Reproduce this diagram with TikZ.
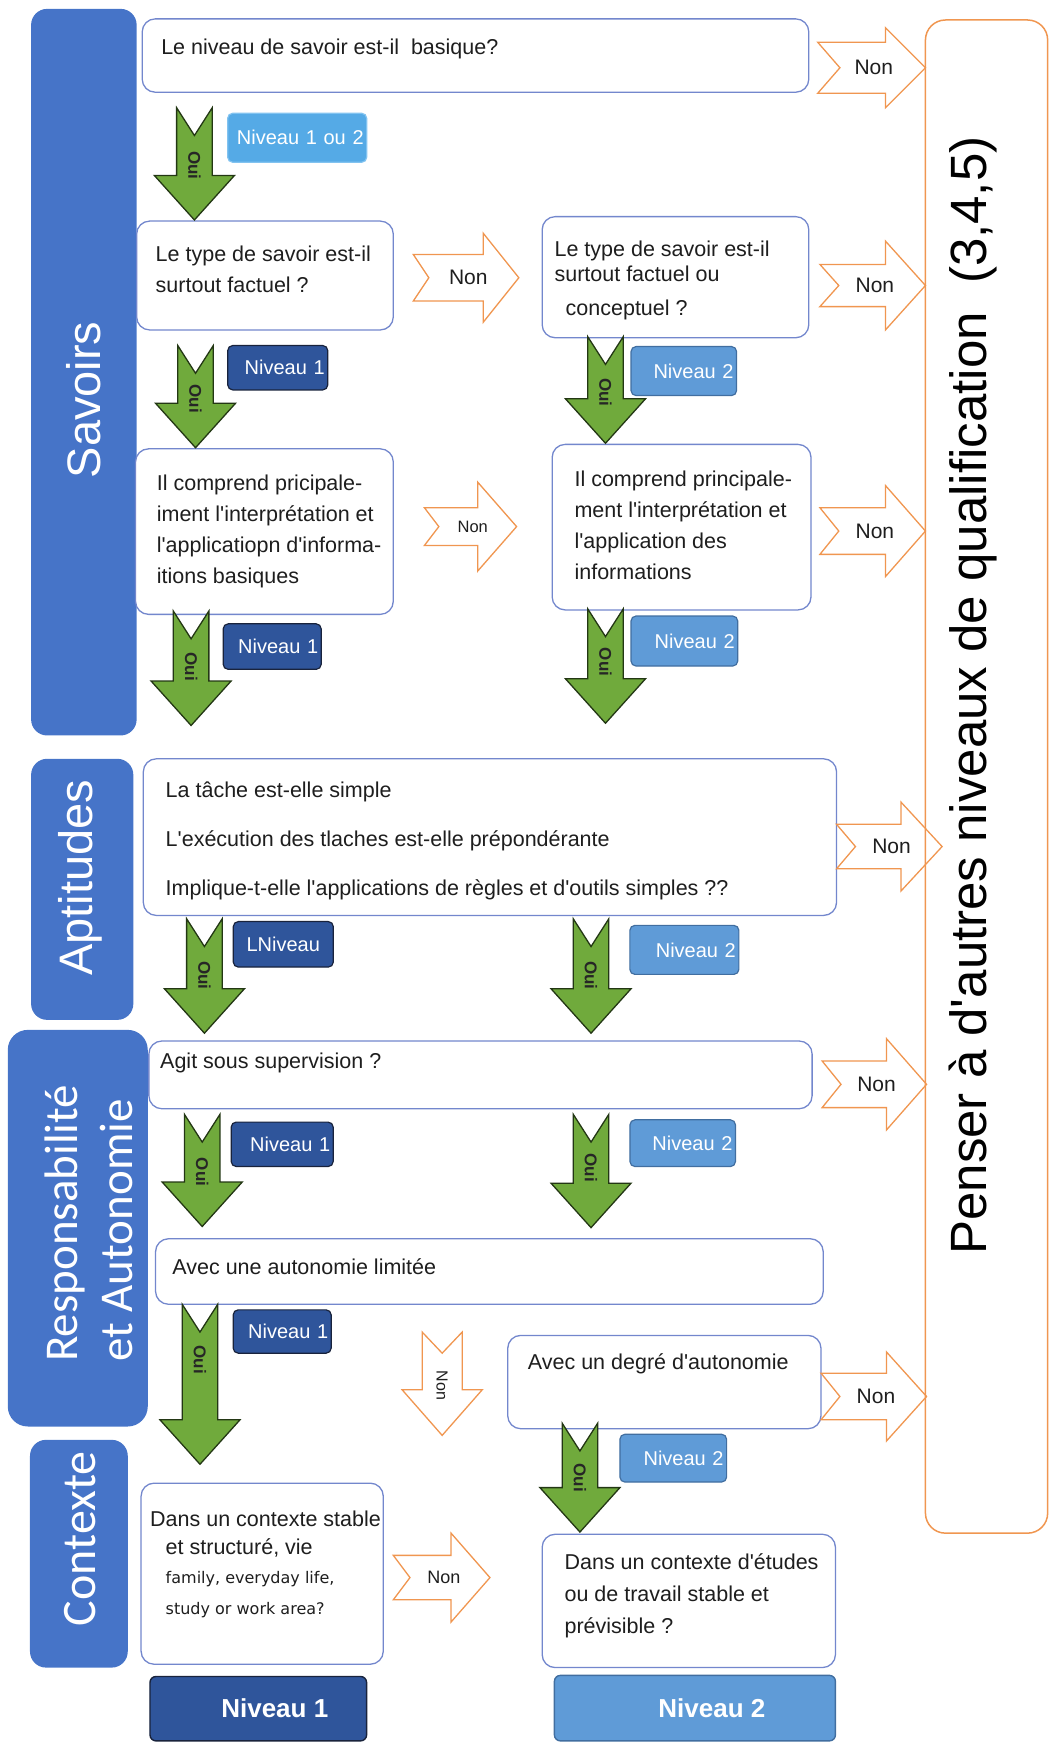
\documentclass[tikz,border=0pt]{standalone}
\usepackage{fontspec}
\newfontfamily\arialf{Liberation Sans}
\newfontfamily\calf{Carlito}
\newfontfamily\dejaf{DejaVu Sans}
\usetikzlibrary{fit}
\definecolor{catblue}{RGB}{70,116,200}
\definecolor{boxline}{RGB}{115,135,205}
\definecolor{txtcol}{RGB}{30,30,30}
\definecolor{nonorange}{RGB}{240,150,80}
\definecolor{ouigreen}{RGB}{112,170,60}
\definecolor{ouiline}{RGB}{35,55,20}
\definecolor{nivdark}{RGB}{47,85,155}
\definecolor{nivdarkline}{RGB}{25,35,60}
\definecolor{nivlight}{RGB}{95,155,215}
\definecolor{nivlightline}{RGB}{65,110,160}
\definecolor{nivsky}{RGB}{85,170,230}
\definecolor{nivskyline}{RGB}{130,195,240}
\tikzset{
  catbar/.style={fill=catblue, draw=none, rounded corners=16pt, inner sep=0pt},
  qbox/.style={draw=boxline, line width=1.3pt, fill=white, rounded corners=13pt, inner sep=0pt},
  qtxt/.style={font=\arialf\fontsize{21.5}{31}\selectfont, text=txtcol, align=left, inner sep=0pt, anchor=west},
  cattxt/.style={text=white, rotate=90, align=left, inner sep=0pt},
  nivbase/.style={rounded corners=5pt, line width=1.2pt, text=white, font=\arialf\fontsize{20}{24}\selectfont, align=right, inner xsep=3pt, inner ysep=0pt},
  nivd/.style={nivbase, fill=nivdark, draw=nivdarkline},
  nivl/.style={nivbase, fill=nivlight, draw=nivlightline},
  nivs/.style={nivbase, fill=nivsky, draw=nivskyline},
  bigniv/.style={rounded corners=6pt, line width=1.4pt, text=white, font=\arialf\bfseries\fontsize{26}{30}\selectfont, inner sep=0pt},
  ouishape/.style={fill=ouigreen, draw=ouiline, line width=1.3pt, line join=miter},
  ouitxt/.style={font=\arialf\bfseries\fontsize{17}{20}\selectfont, text=black!85, rotate=-90, inner sep=0pt},
  nonshape/.style={draw=nonorange, line width=1.3pt, fill=white, line join=miter},
  nontxt/.style={font=\arialf, text=txtcol, inner sep=0pt},
  pics/ouiarrow/.style n args={2}{code={
    \draw[ouishape] (-16,0) -- (0,25) -- (16,0) -- (16,#1-40) -- (36,#1-40) -- (0,#1) -- (-36,#1-40) -- (-16,#1-40) -- cycle;
    \node[ouitxt] (-lbl) at (0,#2) {Oui};
  }},
  pics/nonarrow/.style n args={6}{code={
    \draw[nonshape] (0,-#2) -- (#1-#4,-#2) -- (#1-#4,-#3) -- (#1,0) -- (#1-#4,#3) -- (#1-#4,#2) -- (0,#2) -- (#5,0) -- cycle;
    \node[nontxt] (-lbl) at (#1/2+2,0) {\fontsize{#6}{#6}\selectfont Non};
  }}
}
\begin{document}
\begin{tikzpicture}[x=1.1109pt,y=-1.1109pt]
\useasboundingbox (0,0) rectangle (947,1568);

% category bars
\node[catbar, fit={(28,8) (123,662)}] (c1) {};
\node[catbar, fit={(28,683) (120,918)}] (c2) {};
\node[catbar, rounded corners=20pt, fit={(7,927) (133,1284)}] (c3) {};
\node[catbar, fit={(27,1296) (115,1501)}] (c4) {};
\node[cattxt, font=\arialf\fontsize{47}{55}\selectfont] (c1t) at (75,360) {Savoirs};
\node[cattxt, font=\arialf\fontsize{47}{55}\selectfont] (c2t) at (72,790) {Aptitudes};
\node[cattxt, font=\calf\fontsize{47}{55}\selectfont] (c3t) at (80,1101) {Responsabilité\\et Autonomie};
\node[cattxt, font=\calf\fontsize{48}{55}\selectfont] (c4t) at (72,1385) {Contexte};

% question boxes
\node[qbox, fit={(128,17) (728,83)}] (q1) {};
\node[qbox, fit={(123,199) (354,297)}] (q2) {};
\node[qbox, fit={(488,195) (728,304)}] (q3) {};
\node[qbox, fit={(122,404) (354,553)}] (q4) {};
\node[qbox, fit={(497,400) (730,549)}] (q5) {};
\node[qbox, fit={(129,683) (753,824)}] (q6) {};
\node[qbox, fit={(134,937) (731,998)}] (q7) {};
\node[qbox, fit={(140,1115) (741,1174)}] (q8) {};
\node[qbox, fit={(457,1202) (739,1286)}] (q9) {};
\node[qbox, fit={(127,1335) (345,1498)}] (q10) {};
\node[qbox, fit={(488,1381) (752,1501)}] (q11) {};

% texts
\node[qtxt] (t1) at (145,44) {Le niveau de savoir est-il\ \ basique?};
\node[qtxt] (t2) at (140,242) {Le type de savoir est-il\\surtout factuel ?};
\node[qtxt, font=\arialf\fontsize{21.5}{24.5}\selectfont] (t3a) at (499,235) {Le type de savoir est-il\\surtout factuel ou};
\node[qtxt] (t3b) at (509,279) {conceptuel ?};
\node[qtxt, font=\arialf\fontsize{21.5}{30.8}\selectfont] (t4) at (141,478.5) {Il comprend pricipale-\\iment l'interprétation et\\l'applicatiopn d'informa-\\itions basiques};
\node[qtxt, font=\arialf\fontsize{21.5}{31}\selectfont] (t5) at (517,473) {Il comprend principale-\\ment l'interprétation et\\l'application des\\informations};
\node[qtxt] (t6a) at (149,713) {La tâche est-elle simple};
\node[qtxt] (t6b) at (149,757) {L'exécution des tlaches est-elle prépondérante};
\node[qtxt] (t6c) at (149,801) {Implique-t-elle l'applications de règles et d'outils simples ??};
\node[qtxt] (t7) at (144,957) {Agit sous supervision ?};
\node[qtxt] (t8) at (155,1140) {Avec une autonomie limitée};
\node[qtxt] (t9) at (475,1228) {Avec un degré d'autonomie};
\node[qtxt] (t10a) at (135,1367) {Dans un contexte stable};
\node[qtxt] (t10b) at (149,1393) {et structuré, vie};
\node[qtxt, font=\dejaf\fontsize{16}{31}\selectfont] (t10c) at (149,1435) {family, everyday life,\\study or work area?};
\node[qtxt, font=\arialf\fontsize{21.5}{32}\selectfont] (t11) at (508,1436) {Dans un contexte d'études\\ou de travail stable et\\prévisible ?};

% niveau labels
\node[nivs, minimum height=49pt, text width=133pt] (l0) at (267.5,124) {Niveau 1 ou 2};
\node[nivd, minimum height=44.4pt, text width=94pt] (l1) at (250,331) {Niveau 1};
\node[nivl, minimum height=49pt, text width=99.5pt] (l2) at (615.5,334) {Niveau 2};
\node[nivd, minimum height=45.5pt, text width=92pt] (l3) at (245,582) {Niveau 1};
\node[nivl, minimum height=50pt, text width=100.7pt] (l4) at (616,577) {Niveau 2};
\node[nivd, minimum height=45.5pt, text width=94pt, align=center] (l5) at (255,850) {LNiveau};
\node[nivl, minimum height=49pt, text width=103pt] (l6) at (616,855) {Niveau 2};
\node[nivd, minimum height=44.4pt, text width=96pt] (l7) at (254,1030) {Niveau 1};
\node[nivl, minimum height=46.7pt, text width=99.5pt] (l8) at (614.5,1029) {Niveau 2};
\node[nivd, minimum height=43.3pt, text width=92pt] (l9) at (254,1198.5) {Niveau 1};
\node[nivl, minimum height=47.8pt, text width=100.7pt] (l10) at (606,1312.5) {Niveau 2};
\node[bigniv, fill=nivdark, draw=nivdarkline, minimum width=216.6pt, minimum height=64.4pt] (b1) at (232.5,1538) {\hspace*{33pt}Niveau 1};
\node[bigniv, fill=nivlight, draw=nivlightline, minimum width=281pt, minimum height=65.5pt] (b2) at (625.5,1537.5) {\hspace*{34pt}Niveau 2};

% green "Oui" arrows
\pic (g1) at (175,97) {ouiarrow={101}{52}};
\pic (g2) at (176,311) {ouiarrow={92}{48}};
\pic (g3) at (545,303) {ouiarrow={96}{50}};
\pic (g4) at (172,550) {ouiarrow={103}{50}};
\pic (g5) at (545,548) {ouiarrow={103}{48}};
\pic (g6) at (184,827) {ouiarrow={103}{51}};
\pic (g7) at (532,827) {ouiarrow={103}{51}};
\pic (g8) at (182,1003) {ouiarrow={101}{52}};
\pic (g9) at (532,1003) {ouiarrow={102}{48}};
\pic (g10) at (180,1174) {ouiarrow={144}{50}};
\pic (g11) at (522,1281) {ouiarrow={98}{49}};

% orange "Non" arrows
\pic (n1) at (736,61) {nonarrow={97}{23}{36}{36}{20}{21}};
\pic (n2) at (372,250) {nonarrow={95}{21}{40}{32}{14}{21}};
\pic (n3) at (738,257) {nonarrow={95}{19}{40}{36}{17}{21}};
\pic (n4) at (382,474) {nonarrow={83}{17}{40}{35}{13}{16.5}};
\pic (n5) at (738,478) {nonarrow={95}{21}{41}{36}{17}{21}};
\pic (n6) at (753,762) {nonarrow={95}{20}{40}{37}{17}{21}};
\pic (n7) at (740,976) {nonarrow={94}{21}{41}{36}{17}{21}};
\pic (n8) at (739,1257) {nonarrow={95}{21}{40}{36}{17}{21}};
\pic (n9) at (354,1420) {nonarrow={87}{20}{40}{35}{15}{18}};
\draw[nonshape] (380,1199) -- (398,1218) -- (416,1199) -- (416,1251) -- (434,1251) -- (398,1292) -- (362,1251) -- (380,1251) -- cycle;
\node[nontxt, rotate=-90, font=\arialf\fontsize{16}{16}\selectfont] (ndown) at (398,1247) {Non};

% big orange box
\node[draw=nonorange, line width=1.5pt, rounded corners=20pt, inner sep=0pt, fit={(833,18) (943,1380)}] (pen) {};
\node[font=\arialf\fontsize{51}{60}\selectfont, text=black, rotate=90, inner sep=0pt] (pentxt) at (876,626) {Penser à d'autres niveaux de qualification\ \ (3,4,5)};
\end{tikzpicture}
\end{document}
